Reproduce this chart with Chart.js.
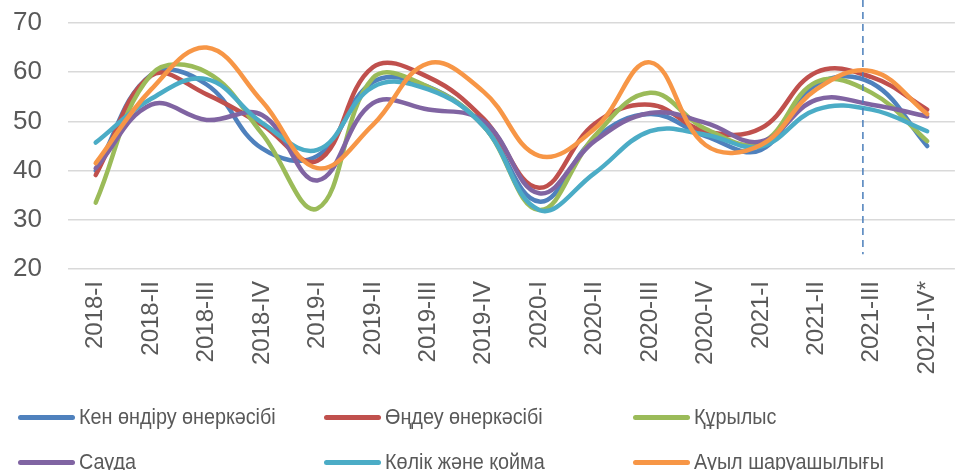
<!DOCTYPE html>
<html>
<head>
<meta charset="utf-8">
<script src="https://cdn.jsdelivr.net/npm/chart.js@4.4.0/dist/chart.umd.min.js"></script>
<style>
  html, body { margin: 0; padding: 0; background: #fff; overflow: hidden; }
  #wrap { position: relative; width: 968px; height: 390px; }
  #legend { position: absolute; left: 0; top: 0; width: 959px; height: 470px; pointer-events: none; }
  .item { position: absolute; display: flex; align-items: center; height: 24px;
          font-family: "Liberation Sans", sans-serif;
          font-size: 22px; color: #595959; white-space: nowrap; }
  .swatch { width: 57px; height: 5px; border-radius: 3px; margin-right: 4px; }
  .text { display: inline-block; transform: scaleX(0.9); transform-origin: left center; }
</style>
</head>
<body>
<div id="wrap"><canvas id="chart" width="968" height="390"></canvas></div>
<div id="legend"></div>
<script>
const quarters = ['2018-I', '2018-II', '2018-III', '2018-IV', '2019-I', '2019-II', '2019-III', '2019-IV',
                  '2020-I', '2020-II', '2020-III', '2020-IV', '2021-I', '2021-II', '2021-III', '2021-IV*'];

const mining        = [40.0, 59.5, 57.5, 44.5, 43.0, 58.0, 57.0, 49.0, 33.7, 46.5, 51.5, 47.0, 44.2, 57.5, 57.8, 45.0];
const manufacturing = [39.1, 59.3, 55.5, 49.3, 42.0, 61.0, 59.0, 50.5, 36.5, 49.5, 53.4, 48.0, 48.6, 60.0, 59.0, 52.4];
const construction  = [33.5, 59.5, 60.0, 47.5, 32.3, 58.8, 57.0, 49.0, 32.0, 47.0, 55.8, 48.5, 45.6, 58.0, 55.8, 46.0];
const trade         = [40.5, 53.4, 50.3, 51.3, 38.0, 53.7, 52.4, 50.0, 35.4, 46.0, 51.7, 49.7, 45.9, 54.4, 53.4, 51.0];
const transport     = [45.7, 54.6, 58.6, 49.7, 44.2, 57.0, 56.5, 49.0, 32.0, 39.5, 48.0, 47.3, 44.9, 52.4, 52.4, 48.0];
const agriculture   = [41.5, 56.5, 65.0, 54.1, 40.5, 49.3, 61.8, 56.0, 43.0, 48.5, 62.0, 45.2, 45.2, 56.5, 60.2, 51.5];

const seriesNames = ['Кен өндіру өнеркәсібі', 'Өңдеу өнеркәсібі', 'Құрылыс', 'Сауда', 'Көлік және қойма', 'Ауыл шаруашылығы'];
const seriesData = [mining, manufacturing, construction, trade, transport, agriculture];
const colors = ['#4f81bd', '#c0504d', '#9bbb59', '#8064a2', '#4bacc6', '#f79646'];

// vertical dashed marker, in category-index units
const markerIndex = 13.84;
const markerBottom = 23;

const markerLine = {
  id: 'markerLine',
  afterDatasetsDraw(chart) {
    const { ctx, scales: { x, y } } = chart;
    const px = x.getPixelForValue(markerIndex);
    ctx.save();
    ctx.strokeStyle = '#4a7ebb';
    ctx.lineWidth = 1.5;
    ctx.setLineDash([7, 5]);
    ctx.beginPath();
    ctx.moveTo(px, 0);
    ctx.lineTo(px, y.getPixelForValue(markerBottom));
    ctx.stroke();
    ctx.restore();
  }
};

document.addEventListener('DOMContentLoaded', () => {
  const datasets = seriesNames.map((name, i) => ({
    label: name,
    data: seriesData[i],
    borderColor: colors[i],
    backgroundColor: colors[i],
    borderWidth: 4.5,
    borderCapStyle: 'round',
    borderJoinStyle: 'round',
    pointRadius: 0,
    tension: 0.4,
    fill: false,
    order: seriesNames.length - i
  }));

  new Chart(document.getElementById('chart'), {
    type: 'line',
    data: { labels: quarters, datasets },
    options: {
      responsive: false,
      animation: false,
      layout: { padding: { top: 23, left: 0, right: 0, bottom: 0 } },
      plugins: {
        legend: { display: false },
        tooltip: { enabled: false }
      },
      scales: {
        x: {
          offset: true,
          grid: { display: false, drawTicks: false, offset: true },
          border: { display: false },
          ticks: {
            color: '#595959',
            font: { family: 'Liberation Sans', size: 24 },
            minRotation: 90,
            maxRotation: 90,
            padding: 12,
            autoSkip: false
          },
          afterFit: (scale) => { scale.height = 121; }
        },
        y: {
          min: 20,
          max: 70,
          // gap between labels and plot comes from an invisible tick mark,
          // so that it does not push the plot area down
          grid: { color: '#d9d9d9', lineWidth: 1.5, drawTicks: true, tickLength: 26, tickColor: 'rgba(0,0,0,0)' },
          border: { display: false },
          ticks: {
            stepSize: 10,
            color: '#595959',
            font: { family: 'Liberation Sans', size: 26 },
            padding: 0
          },
          afterFit: (scale) => { scale.width = 68; }
        }
      }
    },
    plugins: [markerLine]
  });

  // legend in a 3-column grid, two rows
  const legend = document.getElementById('legend');
  const colX = [18, 324, 633];
  const rowY = [405, 450];
  seriesNames.forEach((name, i) => {
    const item = document.createElement('div');
    item.className = 'item';
    item.style.left = colX[i % 3] + 'px';
    item.style.top = rowY[Math.floor(i / 3)] + 'px';
    const sw = document.createElement('span');
    sw.className = 'swatch';
    sw.style.background = colors[i];
    const label = document.createElement('span');
    label.className = 'text';
    label.textContent = name;
    item.appendChild(sw);
    item.appendChild(label);
    legend.appendChild(item);
  });
});
</script>
</body>
</html>
